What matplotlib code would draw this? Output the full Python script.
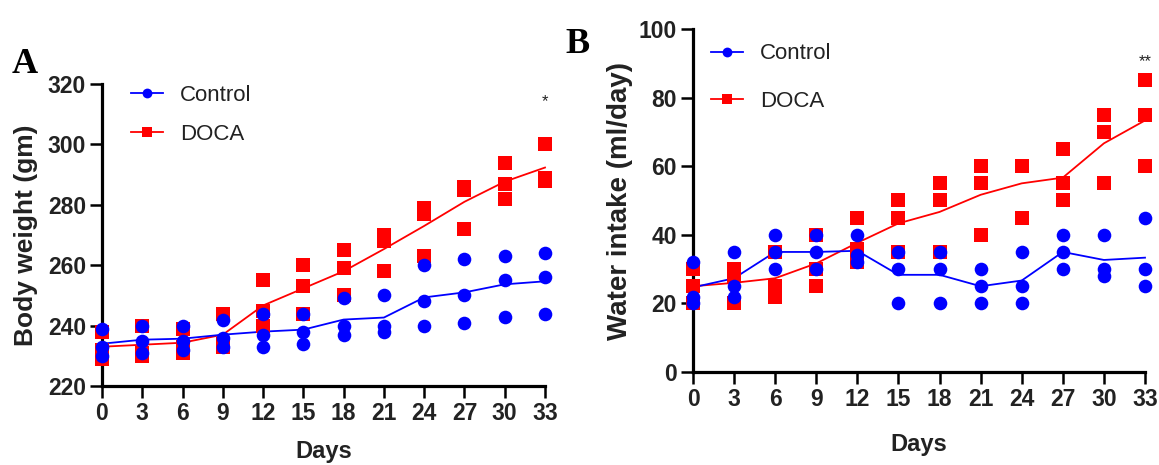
import matplotlib
matplotlib.use("Agg")
import matplotlib.pyplot as plt
import numpy as np
from matplotlib.lines import Line2D

# Sampling days
days = [0, 3, 6, 9, 12, 15, 18, 21, 24, 27, 30, 33]

# Body weight (gm), three animals per group per day
control_bw = [
    [239, 233, 230], [240, 235, 231], [240, 235, 232], [242, 236, 233],
    [244, 237, 233], [244, 238, 234], [249, 240, 237], [250, 240, 238],
    [260, 248, 240], [262, 250, 241], [263, 255, 243], [264, 256, 244],
]
doca_bw = [
    [238, 232, 229], [240, 231, 230], [239, 233, 231], [244, 234, 233],
    [255, 245, 240], [260, 253, 244], [265, 259, 250], [270, 268, 258],
    [279, 277, 263], [286, 285, 272], [294, 287, 282], [300, 289, 288],
]

# Water intake (ml/day)
control_wi = [
    [32, 22, 20], [35, 25, 22], [40, 35, 30], [40, 35, 30],
    [40, 34, 32], [35, 30, 20], [35, 30, 20], [30, 25, 20],
    [35, 25, 20], [40, 35, 30], [40, 30, 28], [45, 30, 25],
]
doca_wi = [
    [30, 25, 20], [30, 28, 20], [35, 25, 22], [40, 30, 25],
    [45, 36, 32], [50, 45, 35], [55, 50, 35], [60, 55, 40],
    [60, 60, 45], [65, 55, 50], [75, 70, 55], [85, 75, 60],
]

group_labels = ["Control", "DOCA"]
bw_yticks = [220, 240, 260, 280, 300, 320]
wi_yticks = [0, 20, 40, 60, 80, 100]
bw_sig = "*"
wi_sig = "**"

BLUE = "#0000FF"
RED = "#FF0000"
TICK_FONT = ["Liberation Sans Narrow", "Liberation Sans", "DejaVu Sans"]
TEXT_FONT = ["Liberation Sans", "DejaVu Sans"]
LETTER_FONT = ["Liberation Serif", "DejaVu Serif"]

W, H = 1159, 465
fig = plt.figure(figsize=(W / 100, H / 100), dpi=100)


def px_axes(left, top, right, bottom):
    return fig.add_axes([left / W, 1 - bottom / H, (right - left) / W, (bottom - top) / H])


def draw_group(ax, values, marker, color):
    vals = np.array(values, dtype=float)
    means = vals.mean(axis=1)
    ax.plot(days, means, color=color, lw=1.3, zorder=3, clip_on=False)
    for d, row in zip(days, vals):
        ax.plot([d] * len(row), row, linestyle="none", marker=marker,
                markersize=9.8, color=color, markeredgewidth=0,
                zorder=4, clip_on=False)


def style_axes(ax, yticks, ylabel, ylabel_size, ylabel_x, xlabel_y):
    ax.set_xlim(0, 33)
    ax.set_ylim(yticks[0], yticks[-1])
    ax.set_xticks(days)
    ax.set_yticks(yticks)
    for s in ("top", "right"):
        ax.spines[s].set_visible(False)
    for s in ("left", "bottom"):
        ax.spines[s].set_linewidth(2.3)
    ax.tick_params(direction="out", length=8.5, width=1.8, pad=3)
    for lab in ax.get_xticklabels() + ax.get_yticklabels():
        lab.set_family(TICK_FONT)
        lab.set_fontweight("bold")
        lab.set_fontsize(16.5)
        lab.set_color("#222222")
    ax.set_ylabel(ylabel, family=TEXT_FONT, fontweight="bold",
                  fontsize=ylabel_size, color="#222222")
    ax.set_xlabel("Days", family=TEXT_FONT, fontweight="bold",
                  fontsize=17, color="#222222")
    ax.yaxis.set_label_coords(ylabel_x, 0.5)
    ax.xaxis.set_label_coords(0.5, xlabel_y)


def add_legend(ax, anchor, spacing):
    handles = [
        Line2D([], [], color=BLUE, lw=1.3, marker="o", markersize=9.4,
               markeredgewidth=0),
        Line2D([], [], color=RED, lw=1.3, marker="s", markersize=9.4,
               markeredgewidth=0),
    ]
    leg = ax.legend(handles, group_labels, loc="upper left",
                    bbox_to_anchor=anchor, frameon=False,
                    prop={"family": TEXT_FONT, "size": 16},
                    handlelength=1.45, handletextpad=0.75,
                    labelspacing=spacing, markerscale=0.75,
                    borderaxespad=0, borderpad=0)
    for t in leg.get_texts():
        t.set_color("#222222")


# Panel A: body weight
axA = px_axes(102, 84, 545, 386)
draw_group(axA, doca_bw, "s", RED)
draw_group(axA, control_bw, "o", BLUE)
style_axes(axA, bw_yticks, "Body weight (gm)", 19, -0.145, -0.18)
add_legend(axA, (0.065, 0.997), 0.8)
axA.text(33, 314, bw_sig, ha="center", va="center", fontsize=12,
         color="#222222", family=TEXT_FONT)
fig.text(12 / W, 1 - 73 / H, "A", family=LETTER_FONT, fontweight="bold",
         fontsize=26, ha="left", va="baseline")

# Panel B: water intake
axB = px_axes(693, 29, 1145, 372)
draw_group(axB, doca_wi, "s", RED)
draw_group(axB, control_wi, "o", BLUE)
style_axes(axB, wi_yticks, "Water intake (ml/day)", 20, -0.133, -0.178)
add_legend(axB, (0.04, 0.958), 1.18)
axB.text(33, 90.5, wi_sig, ha="center", va="center", fontsize=12,
         color="#222222", family=TEXT_FONT)
fig.text(565 / W, 1 - 53 / H, "B", family=LETTER_FONT, fontweight="bold",
         fontsize=26, ha="left", va="baseline")

fig.savefig("out.png", dpi=100, facecolor="white")
